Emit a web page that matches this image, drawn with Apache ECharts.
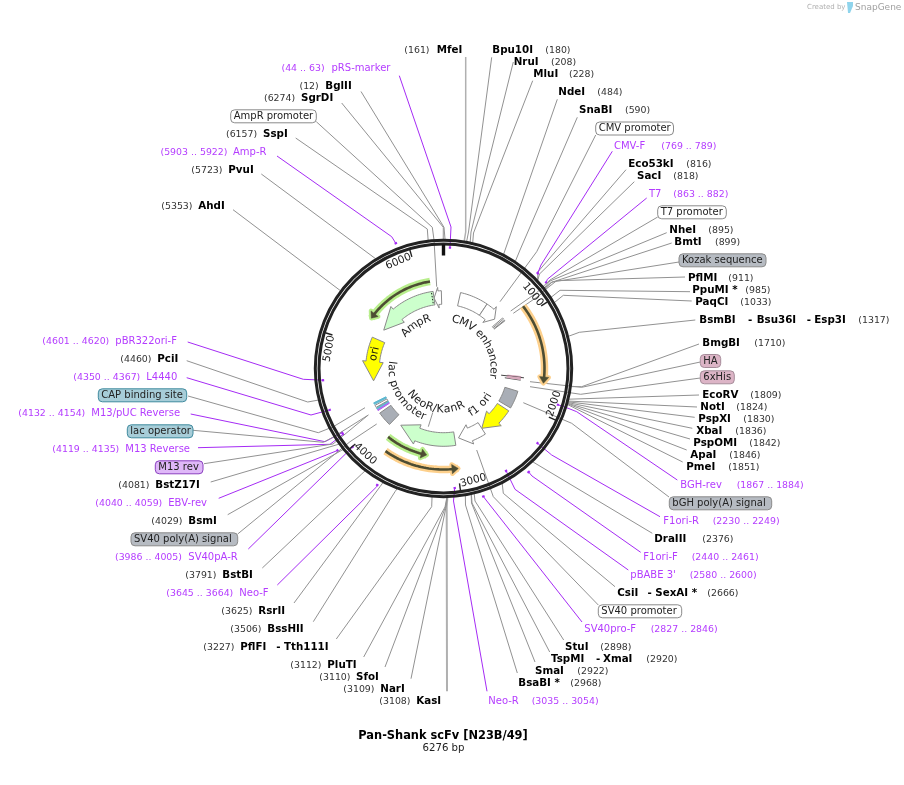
<!DOCTYPE html>
<html>
<head>
<meta charset="utf-8">
<title>Pan-Shank scFv [N23B/49]</title>
<script src="https://cdn.jsdelivr.net/npm/echarts@6/dist/echarts.min.js"></script>
<style>
  html, body { margin: 0; padding: 0; background: #fff; }
  #map { width: 904px; height: 785px; }
</style>
</head>
<body>
<div id="map"></div>
<script>
var plasmidName = 'Pan-Shank scFv [N23B/49]';
var plasmidLength = 6276;
var rulerTicks = [1000, 2000, 3000, 4000, 5000, 6000];

// restriction sites
var enzymeNames = ['MfeI', 'BglII', 'SgrDI', 'SspI', 'PvuI', 'AhdI', 'Bpu10I', 'NruI', 'MluI', 'NdeI', 'SnaBI',
  'Eco53kI', 'SacI', 'NheI', 'BmtI', 'PflMI', 'PpuMI *', 'PaqCI', 'BsmBI', 'BmgBI', 'EcoRV', 'NotI', 'PspXI',
  'XbaI', 'PspOMI', 'ApaI', 'PmeI', 'DraIII', 'CsiI', 'StuI', 'TspMI', 'SmaI', 'BsaBI *', 'KasI', 'NarI', 'SfoI',
  'PluTI', 'PflFI', 'BssHII', 'RsrII', 'BstBI', 'BsmI', 'BstZ17I', 'PciI'];
var enzymeSites = [161, 12, 6274, 6157, 5723, 5353, 180, 208, 228, 484, 590,
  816, 818, 895, 899, 911, 985, 1033, 1317, 1710, 1809, 1824, 1830,
  1836, 1842, 1846, 1851, 2376, 2666, 2898, 2920, 2922, 2968, 3108, 3109, 3110,
  3112, 3227, 3506, 3625, 3791, 4029, 4081, 4460];
var enzymeAliases = { BsmBI: ['Bsu36I', 'Esp3I'], CsiI: ['SexAI *'], TspMI: ['XmaI'], PflFI: ['Tth111I'] };

// primers
var primerNames = ['pRS-marker', 'Amp-R', 'CMV-F', 'T7', 'BGH-rev', 'F1ori-R', 'F1ori-F', "pBABE 3'", 'SV40pro-F',
  'Neo-R', 'Neo-F', 'SV40pA-R', 'EBV-rev', 'M13 Reverse', 'M13/pUC Reverse', 'L4440', 'pBR322ori-F'];
var primerStarts = [44, 5903, 769, 863, 1867, 2230, 2440, 2580, 2827, 3035, 3645, 3986, 4040, 4119, 4132, 4350, 4601];
var primerEnds = [63, 5922, 789, 882, 1884, 2249, 2461, 2600, 2846, 3054, 3664, 4005, 4059, 4135, 4154, 4367, 4620];

// features on the inner track
var featureNames = ['AmpR promoter', 'AmpR', 'ori', 'CMV enhancer', 'CMV promoter', 'T7 promoter', 'Kozak sequence',
  'HA', '6xHis', 'bGH poly(A) signal', 'f1 ori', 'SV40 promoter', 'NeoR/KanR', 'SV40 poly(A) signal',
  'M13 rev', 'lac operator', 'lac promoter', 'CAP binding site'];
var featureStarts = [6143, 5277, 4533, 221, 594, 863, 900, 1672, 1690, 1866, 2144, 2570, 2979, 3905, 4136, 4160, 4184, 4229];
var featureEnds = [6248, 6142, 5121, 593, 802, 881, 909, 1690, 1710, 2100, 2570, 2925, 3783, 4097, 4152, 4176, 4214, 4250];
var featureDirs = [-1, -1, -1, 0, 1, 0, 0, 0, 0, 0, 1, 1, 1, 0, 0, 0, 0, 0];

// ORF style arcs: start, end, direction
var arcStarts = [5315, 906, 3330, 2991];
var arcEnds = [6122, 1716, 3818, 3749];
var arcDirs = [-1, 1, -1, -1];

// ---- layout and styles from here on ----
var cx = 443.5, cy = 368.5;
var FONT = '"DejaVu Sans", Verdana, sans-serif';
var GREY = '#929292', PURPLE = '#a52bf5', PURPLE_TEXT = '#b43cff';

// name x, site x, y, line end x, y, then elbow points
var siteLayout = {
  'MfeI': [436.7, 404.3, 50.5, 465.7, 57, 465.7, 232],
  'BglII': [325.3, 299.5, 86.5, 361, 91.5, 444, 227.3],
  'SgrDI': [301, 264, 98.5, 341.7, 103, 443.3, 227.3],
  'SspI': [263, 226, 134.5, 295.7, 138, 427.3, 229],
  'PvuI': [228.3, 191.3, 170.5, 261.3, 174],
  'AhdI': [198.3, 161.3, 206.5, 233, 209.7],
  'Bpu10I': [492.3, 545.3, 50, 491.7, 57.3, 468.5, 232],
  'NruI': [513.7, 551, 62, 513.3, 62, 471, 232],
  'MluI': [533.3, 569, 74, 532.7, 80.7, 473.5, 233],
  'NdeI': [558.3, 597.3, 92, 557.3, 99.3],
  'SnaBI': [579, 625, 110, 577.3, 117.3, 520, 250],
  'Eco53kI': [628.3, 686.3, 164, 626, 169.7, 538, 271.7],
  'SacI': [637, 673.3, 176, 634.3, 181.7, 539.5, 274],
  'NheI': [669.3, 708.3, 230, 666.7, 232.7, 550, 281],
  'BmtI': [674.3, 715, 242, 671.7, 243, 551, 282.5],
  'PflMI': [688, 728.3, 278.5, 685, 277, 556.7, 280.7],
  'PpuMI *': [692.3, 745.3, 290, 690, 291.7, 560, 290.3],
  'PaqCI': [695.3, 740.3, 302.5, 691.7, 301, 563.3, 295.3],
  'BsmBI': [699.3, 858.3, 320, 695.3, 320, 579.3, 332.3],
  'BmgBI': [702.3, 754.3, 343.5, 699, 344, 581.7, 386.7],
  'EcoRV': [702.3, 750.3, 395, 699, 395],
  'NotI': [700.3, 736.3, 407, 697, 407],
  'PspXI': [698.3, 743.3, 419, 694.7, 417.3],
  'XbaI': [696.3, 735.3, 431, 692.3, 428.3],
  'PspOMI': [693.3, 749.3, 443, 690, 439],
  'ApaI': [690.3, 729.3, 455, 686.7, 450],
  'PmeI': [686.3, 728.3, 467, 682.7, 462],
  'DraIII': [654.3, 702.3, 539.5, 652.3, 533.3],
  'CsiI': [617.3, 707.3, 593, 615, 586.7, 503.3, 493.3],
  'StuI': [565, 600.3, 647, 563.7, 640, 475, 501],
  'TspMI': [551, 646.3, 659, 549.7, 652, 472, 503],
  'SmaI': [535, 577.3, 671, 535, 662, 471.5, 503],
  'BsaBI *': [518.3, 570.3, 683, 517.3, 673, 465.5, 505],
  'KasI': [416.3, 379.3, 701.5, 447, 691.3, 446.7, 507],
  'NarI': [380.3, 343.3, 689.5, 411, 678.7, 446, 507],
  'SfoI': [356, 319.3, 677, 385, 667, 445.5, 507],
  'PluTI': [327.3, 290.3, 665, 363.7, 657, 445, 507],
  'PflFI': [240.3, 203.3, 647, 336.3, 639, 431.7, 506.7],
  'BssHII': [267.3, 230.3, 629, 313.3, 621.7, 395, 491.7],
  'RsrII': [258.3, 221.3, 611, 294, 603, 380, 486.7],
  'BstBI': [222.3, 185.3, 575, 262.3, 568, 361.7, 474],
  'BsmI': [188.3, 151.3, 521, 227.7, 514.7],
  'BstZ17I': [155.3, 118.3, 485, 210.7, 482],
  'PciI': [157.3, 120.3, 359, 186.7, 360.7, 307.7, 402]
};
// dash / alias x pairs for the multi name labels
var aliasX = {
  'BsmBI': [[748, 756.7], [806.7, 814.3]],
  'CsiI': [[647.5, 655.3]],
  'TspMI': [[596, 603]],
  'PflFI': [[276.3, 284]]
};
var leaderWidths = { 'MfeI': 1.5, 'KasI': 2 };

// name x, range x, y, mark radius, line end x, y, then elbow points
var primerLayout = {
  'pRS-marker': [331.5, 281.5, 68, 121, 399.3, 75.7, 451, 227],
  'Amp-R': [233, 160.5, 152.5, 134, 277, 156, 391.7, 236.7],
  'CMV-F': [614, 661.3, 146.5, 134, 612.3, 151.3, 541, 265],
  'T7': [649, 673.3, 194.5, 134, 646.7, 198, 547.3, 279.3],
  'BGH-rev': [680.3, 736.7, 485, 120, 677.3, 480, 576.7, 411.7, 566.7, 407.7],
  'F1ori-R': [663.3, 712.7, 521, 120, 660, 516.7, 551.7, 455],
  'F1ori-F': [643.3, 691.7, 557, 134, 640.7, 552.3, 532, 476],
  "pBABE 3'": [630.3, 689.7, 575, 120, 628.3, 570, 515, 489.3],
  'SV40pro-F': [584.3, 650.7, 629, 134, 582, 622, 486, 500],
  'Neo-R': [488.3, 531.7, 701, 120, 487, 691.3, 453.5, 501],
  'Neo-F': [239.3, 166.3, 593.5, 134, 277.3, 585, 376.7, 486.7],
  'SV40pA-R': [188.3, 115, 557, 120, 248.3, 549],
  'EBV-rev': [168.3, 95.3, 503.5, 134, 218.7, 498.3],
  'M13 Reverse': [125.3, 52.3, 449, 120, 198, 447.7, 330, 444.3],
  'M13/pUC Reverse': [91.3, 18.3, 413.5, 120, 190.7, 414, 325, 441.7],
  'L4440': [146.3, 73.3, 377, 121, 186.7, 377.7, 311, 415],
  'pBR322ori-F': [115.3, 42.3, 341.5, 121, 187.7, 342, 303.3, 379.3]
};

// left, right, y, fill, border, then the leader points
var boxLayout = {
  'AmpR promoter': [230.7, 316.3, 116.3, '#fff', '#8a8a8a', [316.3, 121.7, 432.3, 227.3, 434, 240, 436.7, 286.7]],
  'CMV promoter': [595.7, 673.5, 128.5, '#fff', '#8a8a8a', [595.7, 135, 536.7, 251.7, 500, 301.7]],
  'T7 promoter': [657.7, 726.3, 212.3, '#fff', '#8a8a8a', [657.7, 217, 550, 280, 536.7, 292.7, 510.7, 311]],
  'Kozak sequence': [679, 766, 260.3, '#b6bbc2', '#8a8a8a', [679, 262, 552, 282, 540, 295, 513.3, 313.3]],
  'HA': [700.3, 720.7, 361, '#dcb4c6', '#a58c99', [700.3, 362, 581.7, 387.3, 530, 381.7]],
  '6xHis': [700.3, 734.3, 377.3, '#dcb4c6', '#a58c99', [700.3, 378, 580.7, 394.3, 530, 386.7]],
  'bGH poly(A) signal': [669.3, 771.7, 503.3, '#b6bbc2', '#8a8a8a', [669, 497, 571.7, 423.3, 523.3, 402.7]],
  'SV40 promoter': [598.3, 681.7, 611.3, '#fff', '#8a8a8a', [598.3, 605, 493.3, 496.7, 476.7, 450]],
  'SV40 poly(A) signal': [131, 237.7, 539.3, '#b6bbc2', '#8a8a8a', [237.7, 534, 350, 441.7, 376.7, 424]],
  'M13 rev': [155.3, 203, 467.3, '#dfb8f8', '#8a3fc0', [204, 463.7, 333, 444, 368.3, 415]],
  'lac operator': [127.3, 193, 431.3, '#a7cdd8', '#3f8a9e', [193, 430.3, 323.3, 442.3, 333.3, 437, 368.3, 415]],
  'CAP binding site': [98.3, 186.7, 395.3, '#a7cdd8', '#3f8a9e', [188, 396, 318.3, 432.7, 333.3, 426.7, 365, 407.7]]
};

// head length in degrees per directional feature, fill per feature
var headDeg = { 'AmpR promoter': 3.5, 'AmpR': 17, 'ori': 15.5, 'CMV promoter': 5.5, 'f1 ori': 12.7, 'SV40 promoter': 9.6, 'NeoR/KanR': 15.3 };
var featureFill = {
  'AmpR promoter': '#fff', 'AmpR': '#ccffcc', 'ori': '#ffff00', 'CMV enhancer': '#fff', 'CMV promoter': '#fff',
  'T7 promoter': '#fff', 'Kozak sequence': '#a9aeb6', 'HA': '#d8a8bc', '6xHis': '#d8a8bc', 'bGH poly(A) signal': '#a9aeb6',
  'f1 ori': '#ffff00', 'SV40 promoter': '#fff', 'NeoR/KanR': '#ccffcc', 'SV40 poly(A) signal': '#a9aeb6',
  'M13 rev': '#c070f0', 'lac operator': '#5fb8d0', 'lac promoter': '#fff', 'CAP binding site': '#5fb8d0'
};
// the very thin ones are stroked in their own colour
var featureStroke = { 'M13 rev': '#b060f0', 'lac operator': '#5fb8d0', 'CAP binding site': '#5fb8d0', 'HA': '#d8a8bc', '6xHis': '#d8a8bc' };
var arcHalo = ['#b8ee8c', '#fdd08c', '#b8ee8c', '#fdd08c'];
var arcRadius = [88, 101, 88, 101];

// text around the circle: text, middle angle, radius, reading direction
var curvedLabels = [
  ['AmpR', 327.5, 52, 1],
  ['CMV enhancer', 55.5, 50, 1],
  ['lac promoter', 239.4, 52, -1],
  ['NeoR/KanR', 193, 41, -1],
  ['f1 ori', 134.7, 52.5, -1]
];

var measure = document.createElement('canvas').getContext('2d');

function deg(bp) { return bp / plasmidLength * 360; }
function polarDeg(a, r) {
  var t = a * Math.PI / 180;
  return [cx + r * Math.sin(t), cy - r * Math.cos(t)];
}
function coords(api, pts) { return pts.map(function (p) { return api.coord(p); }); }
function pairs(flat) {
  var out = [];
  for (var i = 0; i + 1 < flat.length; i += 2) out.push([flat[i], flat[i + 1]]);
  return out;
}
function line(api, pts, color, width, extra) {
  var style = { stroke: color, lineWidth: width, fill: null, lineJoin: 'round' };
  if (extra) Object.assign(style, extra);
  return { type: 'polyline', shape: { points: coords(api, pts) }, style: style };
}
function text(api, str, x, y, font, color, align) {
  var p = api.coord([x, y]);
  return { type: 'text', x: p[0], y: p[1], style: { text: str, x: 0, y: 0, font: font, fill: color, align: align || 'left', verticalAlign: 'middle' } };
}
function arcPoints(a0, a1, r) {
  var n = Math.max(2, Math.ceil(Math.abs(a1 - a0) / 1.5)), pts = [];
  for (var i = 0; i <= n; i++) pts.push(polarDeg(a0 + (a1 - a0) * i / n, r));
  return pts;
}
function featureShape(i) {
  var name = featureNames[i], a0 = deg(featureStarts[i]), a1 = deg(featureEnds[i]), dir = featureDirs[i];
  var rOut = 77.8, rIn = 64.2;
  if (!dir) return arcPoints(a0, a1, rOut).concat(arcPoints(a1, a0, rIn));
  var tail = dir > 0 ? a0 : a1, tip = dir > 0 ? a1 : a0, base = tip - dir * headDeg[name];
  return arcPoints(tail, base, rOut)
    .concat([polarDeg(base, 81.3), polarDeg(tip, 71), polarDeg(base, 60.6)])
    .concat(arcPoints(base, tail, rIn));
}

function layer(name, z, items, draw) {
  return {
    type: 'custom', name: name, coordinateSystem: 'cartesian2d', z: z, silent: true, clip: false, animation: false,
    encode: { x: 0, y: 1 },
    data: items.map(function (_, i) { return [i, 0]; }),
    renderItem: function (params, api) {
      return { type: 'group', children: draw(items[params.dataIndex], params.dataIndex, api) };
    }
  };
}

var NAME_FONT = 'bold 10.3px ' + FONT, SITE_FONT = '9.4px ' + FONT, LABEL_FONT = '10px ' + FONT;

var enzymeLayer = layer('enzymes', 2, enzymeNames, function (name, i, api) {
  var l = siteLayout[name];
  var pts = pairs(l.slice(3)).concat([polarDeg(deg(enzymeSites[i]), 129)]);
  var w = leaderWidths[name];
  var out = [line(api, pts, w ? '#b0b0b0' : GREY, w || 1),
    text(api, name, l[0], l[2], NAME_FONT, '#000'),
    text(api, '(' + enzymeSites[i] + ')', l[1], l[2] + 0.5, SITE_FONT, '#333')];
  (enzymeAliases[name] || []).forEach(function (alias, k) {
    out.push(text(api, '-', aliasX[name][k][0], l[2], NAME_FONT, '#000'));
    out.push(text(api, alias, aliasX[name][k][1], l[2], NAME_FONT, '#000'));
  });
  return out;
});

var primerLayer = layer('primers', 3, primerNames, function (name, i, api) {
  var l = primerLayout[name], a0 = deg(primerStarts[i]), a1 = deg(primerEnds[i]);
  var mid = (a0 + a1) / 2;
  var pts = pairs(l.slice(4)).concat([polarDeg(mid, l[3])]);
  return [line(api, pts, PURPLE, 1),
    line(api, arcPoints(a0, a1, l[3]), PURPLE, 2.2),
    text(api, name, l[0], l[2], LABEL_FONT, PURPLE_TEXT),
    text(api, '(' + primerStarts[i] + ' .. ' + primerEnds[i] + ')', l[1], l[2] + 0.5, SITE_FONT, PURPLE_TEXT)];
});

var boxLayer = layer('feature labels', 3, Object.keys(boxLayout), function (name, i, api) {
  var b = boxLayout[name];
  var tl = api.coord([b[0], b[2] - 6.5]), br = api.coord([b[1], b[2] + 6.5]);
  return [line(api, pairs(b[5]), GREY, 1),
    { type: 'rect', shape: { x: tl[0], y: tl[1], width: br[0] - tl[0], height: br[1] - tl[1], r: 4 },
      style: { fill: b[3], stroke: b[4], lineWidth: 1 } },
    text(api, name, b[0] + 3, b[2], LABEL_FONT, '#222')];
});

var ringLayer = layer('backbone', 5, [0], function (_, i, api) {
  var c = api.coord([cx, cy]);
  return [
    { type: 'circle', shape: { cx: c[0], cy: c[1], r: 128.2 }, style: { fill: null, stroke: '#222', lineWidth: 3 } },
    { type: 'circle', shape: { cx: c[0], cy: c[1], r: 124.5 }, style: { fill: null, stroke: '#222', lineWidth: 3 } },
    line(api, [polarDeg(0, 124), polarDeg(0, 113)], '#111', 3.4)
  ];
});

var tickLayer = layer('ruler', 6, rulerTicks, function (v, i, api) {
  var a = deg(v), la = a - 7, rot = (la > 90 && la < 270) ? la - 180 : la;
  var p = api.coord(polarDeg(la, 116));
  return [line(api, [polarDeg(a, 123.5), polarDeg(a, 116)], '#222', 1.4),
    { type: 'text', x: p[0], y: p[1], rotation: -rot * Math.PI / 180,
      style: { text: String(v), x: 0, y: 0, font: '10.5px ' + FONT, fill: '#222', align: 'center', verticalAlign: 'middle' } }];
});

var featureLayer = layer('features', 7, featureNames, function (name, i, api) {
  var out = [{ type: 'polygon', shape: { points: coords(api, featureShape(i)) },
    style: { fill: featureFill[name], stroke: featureStroke[name] || '#8a8a8a', lineWidth: 1 } }];
  if (name === 'AmpR') {
    out.push(line(api, [polarDeg(351, 66), polarDeg(351, 77)], '#222', 1, { lineDash: [1.5, 1.5] }));
  }
  if (name === 'ori') {
    var p = api.coord(polarDeg(282, 70.5));
    out.push({ type: 'text', x: p[0], y: p[1], rotation: 78 * Math.PI / 180,
      style: { text: 'ori', x: 0, y: 0, font: '11px ' + FONT, fill: '#111', align: 'center', verticalAlign: 'middle' } });
  }
  if (name === 'HA') {
    out.push(line(api, [polarDeg(96.6, 58), polarDeg(96.6, 81)], '#444', 1));
    out.push(line(api, [polarDeg(98.6, 62), polarDeg(98.6, 78)], '#555', 1));
  }
  if (name === 'NeoR/KanR') {
    // short leader from the arrow to its name
    out.push(line(api, [[432.7, 412.7], [428.3, 426.7]], GREY, 1));
  }
  return out;
});

var arcLayer = layer('arcs', 7, arcStarts, function (start, i, api) {
  var dir = arcDirs[i], a0 = deg(start), a1 = deg(arcEnds[i]);
  var tail = dir > 0 ? a0 : a1, tip = dir > 0 ? a1 : a0, r = arcRadius[i];
  var pts = arcPoints(tail, tip - dir * 2, r);
  var head = [polarDeg(tip - dir * 3.6, r + 4.6), polarDeg(tip, r), polarDeg(tip - dir * 3.6, r - 4.6)];
  return [
    line(api, arcPoints(tail, tip, r), arcHalo[i], 7.5),
    { type: 'polygon', shape: { points: coords(api, head) }, style: { fill: arcHalo[i], stroke: arcHalo[i], lineWidth: 4.5, lineJoin: 'round' } },
    line(api, pts, '#4d4d33', 2.6),
    { type: 'polygon', shape: { points: coords(api, head) }, style: { fill: '#4d4d33', stroke: '#4d4d33', lineWidth: 0.5 } }
  ];
});

var curvedLayer = layer('curved names', 8, curvedLabels, function (c, i, api) {
  var font = '11px ' + FONT, out = [];
  measure.font = font;
  var total = measure.measureText(c[0]).width, s = -total / 2;
  for (var k = 0; k < c[0].length; k++) {
    var w = measure.measureText(c[0][k]).width;
    var a = c[1] + c[3] * ((s + w / 2) / c[2]) * 180 / Math.PI;
    var p = api.coord(polarDeg(a, c[2]));
    var rot = c[3] > 0 ? a : a - 180;
    out.push({ type: 'text', x: p[0], y: p[1], rotation: -rot * Math.PI / 180,
      style: { text: c[0][k], x: 0, y: 0, font: font, fill: '#222', align: 'center', verticalAlign: 'middle' } });
    s += w;
  }
  return out;
});

var titleLayer = layer('title', 9, [plasmidName], function (t, i, api) {
  return [
    text(api, t, 443, 736, 'bold 11.4px ' + FONT, '#000', 'center'),
    text(api, plasmidLength + ' bp', 443.5, 748, '10.2px ' + FONT, '#222', 'center'),
    text(api, 'Created by', 807, 7.5, '7px ' + FONT, '#b0b0b0'),
    { type: 'polygon', shape: { points: coords(api, [[847, 2], [853, 2], [853, 6], [850, 13], [848, 13]]) }, style: { fill: '#8fd4ec' } },
    text(api, 'SnapGene', 855, 7.5, '9px ' + FONT, '#a0a0a0')
  ];
});

var chart = echarts.init(document.getElementById('map'));
chart.setOption({
  animation: false,
  backgroundColor: '#fff',
  grid: { left: 0, right: 0, top: 0, bottom: 0 },
  xAxis: { type: 'value', min: 0, max: 904, show: false },
  yAxis: { type: 'value', min: 0, max: 785, inverse: true, show: false },
  series: [enzymeLayer, primerLayer, boxLayer, ringLayer, tickLayer, featureLayer, arcLayer, curvedLayer, titleLayer]
});
</script>
</body>
</html>
